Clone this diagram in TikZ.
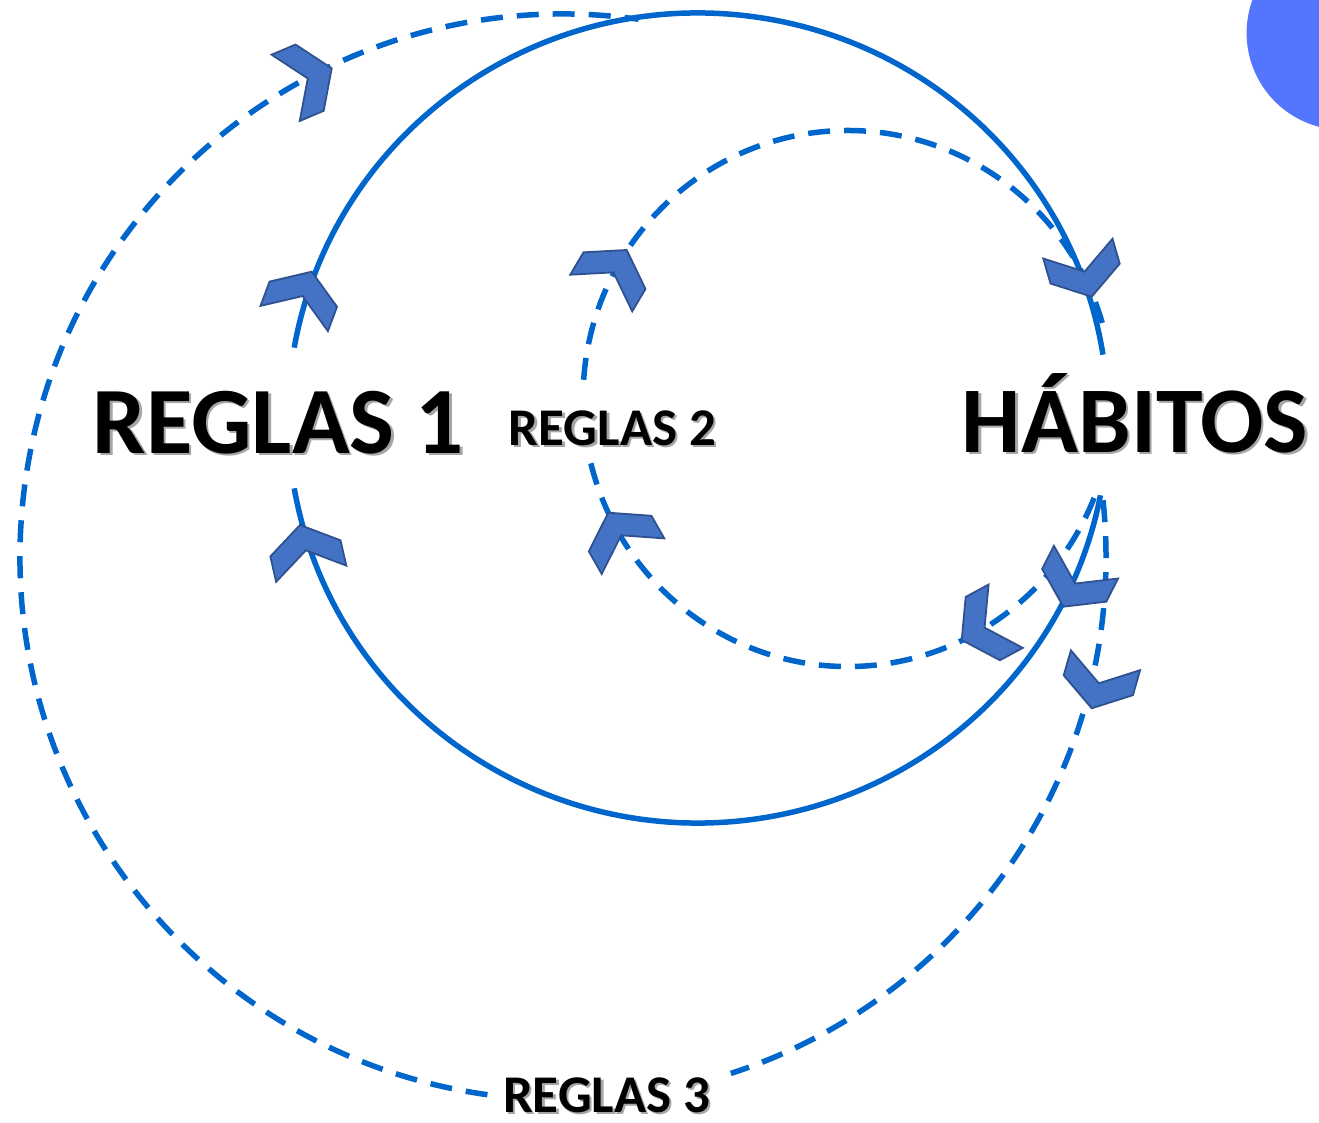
\documentclass[tikz,border=0pt]{standalone}
\usepackage{fontspec}
\newfontfamily\labelfont{Carlito}
\definecolor{linecol}{RGB}{0,102,204}
\definecolor{chevfill}{RGB}{68,114,196}
\definecolor{chevedge}{RGB}{47,82,143}
\definecolor{dotcol}{RGB}{84,118,255}
\tikzset{
  loopline/.style={draw=linecol, line width=5.5pt},
  loopdash/.style={draw=linecol, line width=5.5pt, dash pattern=on 22pt off 14pt},
  chev/.pic={\filldraw[fill=chevfill, draw=chevedge, line width=1.8pt, line join=miter]
     (0,0) -- (36,-24) -- (36,-50) -- (0,-26) -- (-36,-50) -- (-36,-24) -- cycle;},
  lbl/.style={inner sep=0pt, anchor=base, font=\labelfont\bfseries},
}
\newcommand{\shadowtext}[4]{% name, position, size, text
  \node[lbl, text=black!35, font=\labelfont\bfseries\fontsize{#3}{#3}\selectfont] at ([shift={(2.5,-2.5)}]#2) {#4};
  \node[lbl, text=black, font=\labelfont\bfseries\fontsize{#3}{#3}\selectfont] (#1) at (#2) {#4};
}
\begin{document}
\begin{tikzpicture}[x=1pt,y=1pt]
\useasboundingbox (0,0) rectangle (1319,-1123);
% corner disc
\begin{scope}
\clip (0,0) rectangle (1319,-1123);
\fill[dotcol] (1343.6,-33) circle[radius=97];
\end{scope}
% centres
\coordinate (C) at (698,-418);
\coordinate (I) at (848,-398.5);
\coordinate (O) at (563,-557);
% solid loop
\draw[loopline] ([shift={(170:410pt and 405pt)}]C) arc[start angle=170, end angle=9, x radius=410pt, y radius=405pt];
\draw[loopline] ([shift={(190:410pt and 405pt)}]C) arc[start angle=190, end angle=349, x radius=410pt, y radius=405pt];
% inner dashed loop
\draw[loopdash] ([shift={(176:265pt and 268pt)}]I) arc[start angle=176, end angle=15, x radius=265pt, y radius=268pt];
\draw[loopdash] ([shift={(194:265pt and 268pt)}]I) arc[start angle=194, end angle=340, x radius=265pt, y radius=268pt];
% outer dashed loop
\draw[loopdash] ([shift={(6:543pt)}]O) arc[start angle=6, end angle=-72, radius=543pt];
\draw[loopdash] ([shift={(-98:543pt)}]O) arc[start angle=-98, end angle=-278, radius=543pt];
% chevrons
\pic[rotate=-67] at (331.7,-68.3) {chev};
\pic[rotate=-20.5] at (311.7,-271.7) {chev};
\pic[rotate=-30.6] at (626.7,-250) {chev};
\pic[rotate=-164] at (1091.7,-296.7) {chev};
\pic[rotate=13] at (300,-525) {chev};
\pic[rotate=29.6] at (608.3,-512.7) {chev};
\pic[rotate=118.4] at (961.7,-640) {chev};
\pic[rotate=153] at (1063.3,-606.7) {chev};
\pic[rotate=164] at (1091.7,-708.3) {chev};
% labels
\shadowtext{r1}{278.5,-453}{95}{REGLAS 1}
\shadowtext{hab}{1135,-452}{94}{HÁBITOS}
\shadowtext{r2}{612.5,-445}{53}{REGLAS 2}
\shadowtext{r3}{606.7,-1112}{53}{REGLAS 3}
\end{tikzpicture}
\end{document}
